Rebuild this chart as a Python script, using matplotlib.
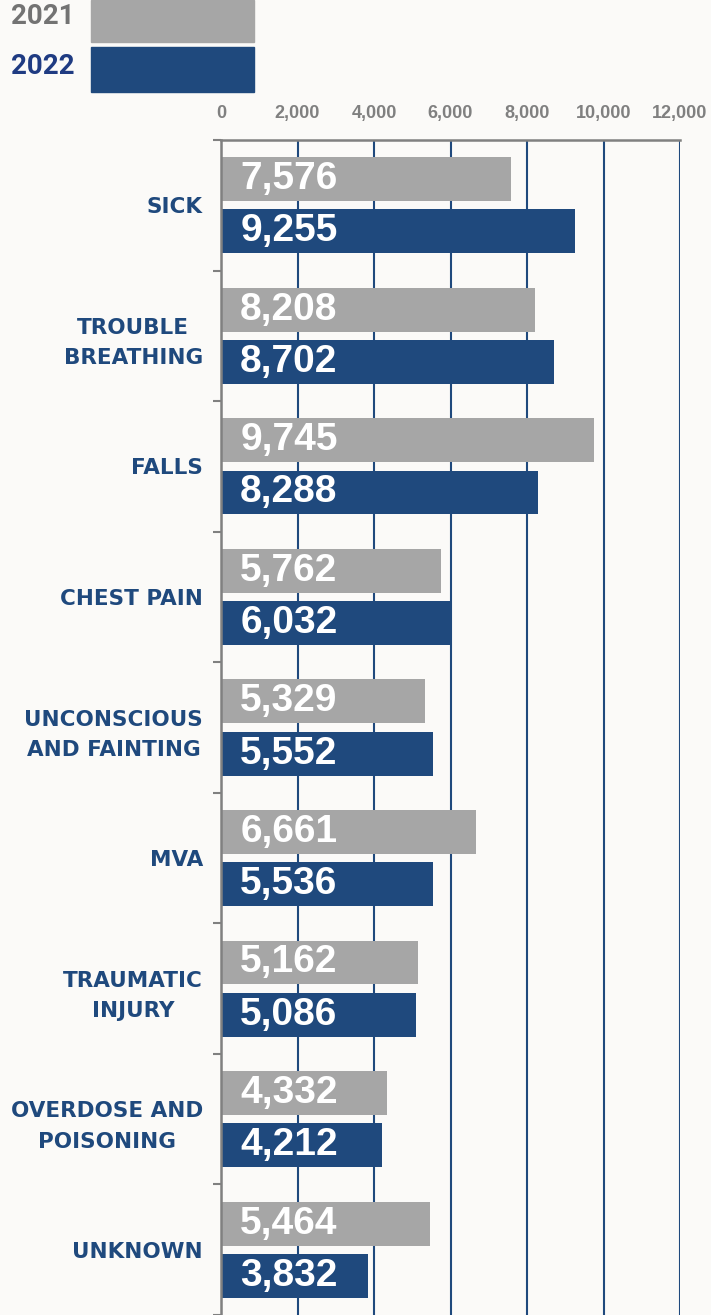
import matplotlib.pyplot as plt
from matplotlib.patches import Rectangle
import numpy as np

# --- data ---
categories = ['SICK', 'TROUBLE\nBREATHING', 'FALLS', 'CHEST PAIN',
              'UNCONSCIOUS\nAND FAINTING', 'MVA', 'TRAUMATIC\nINJURY',
              'OVERDOSE AND\nPOISONING', 'UNKNOWN']
calls_2021 = [7576, 8208, 9745, 5762, 5329, 6661, 5162, 4332, 5464]
calls_2022 = [9255, 8702, 8288, 6032, 5552, 5536, 5086, 4212, 3832]
years = ['2021', '2022']
x_ticks = [0, 2000, 4000, 6000, 8000, 10000, 12000]

GRAY = '#a6a6a6'
NAVY = '#1f497d'
BG = '#fbfaf8'
TICK_GRAY = '#808080'

fig = plt.figure(figsize=(7.11, 13.15), dpi=100, facecolor=BG)
ax = fig.add_axes([221 / 711, 0.0, (680 - 221) / 711, 1 - 140 / 1315])
ax.set_facecolor(BG)

y = np.arange(len(categories))
h = 0.337
off = 0.2
ax.barh(y - off, calls_2021, height=h, color=GRAY, zorder=3)
ax.barh(y + off, calls_2022, height=h, color=NAVY, zorder=3)

# value labels inside bars
for yi, v in zip(y, calls_2021):
    ax.text(500, yi - off, f'{v:,}', color='white', fontsize=28, fontweight='bold',
            family='Liberation Sans', va='center', ha='left', zorder=4)
for yi, v in zip(y, calls_2022):
    ax.text(500, yi + off, f'{v:,}', color='white', fontsize=28, fontweight='bold',
            family='Liberation Sans', va='center', ha='left', zorder=4)

ax.set_xlim(0, 12000)
ax.set_ylim(len(categories) - 0.5, -0.5)

# x axis on top
ax.xaxis.tick_top()
ax.set_xticks(x_ticks)
ax.set_xticklabels([f'{t:,}' for t in x_ticks], color=TICK_GRAY, fontsize=13,
                   fontweight='bold', family='Liberation Sans')
ax.tick_params(axis='x', length=0, pad=13)
ax.grid(axis='x', color=NAVY, linewidth=1.5, zorder=1)
ax.set_axisbelow(True)

# category labels
ax.set_yticks(y)
ax.set_yticklabels(categories, color=NAVY, fontsize=15.5, fontweight='bold',
                   family='DejaVu Sans', linespacing=1.65)
for lbl in ax.get_yticklabels():
    lbl.set_multialignment('center')
ax.tick_params(axis='y', which='major', length=0, pad=13)
ax.set_yticks(np.arange(-0.5, len(categories), 1), minor=True)
ax.tick_params(axis='y', which='minor', length=6, width=1.5, color=TICK_GRAY,
               direction='out')

for side in ['right', 'bottom']:
    ax.spines[side].set_visible(False)
for side in ['left', 'top']:
    ax.spines[side].set_color(TICK_GRAY)
    ax.spines[side].set_linewidth(1.8)
    ax.spines[side].set_zorder(5)

# legend
W, H = 711, 1315
fig.patches.append(Rectangle((91 / W, 1 - 42 / H), (254 - 91) / W, 42 / H,
                             transform=fig.transFigure, color=GRAY))
fig.patches.append(Rectangle((91 / W, 1 - 92 / H), (254 - 91) / W, 45 / H,
                             transform=fig.transFigure, color=NAVY))
fig.text(75 / W, 1 - 17 / H, years[0], color='#737373', fontsize=20,
         fontweight='bold', family='Roboto', ha='right', va='center')
fig.text(75 / W, 1 - 67 / H, years[1], color='#1f3b82', fontsize=20,
         fontweight='bold', family='Roboto', ha='right', va='center')

fig.savefig('out.png', dpi=100, facecolor=BG)
